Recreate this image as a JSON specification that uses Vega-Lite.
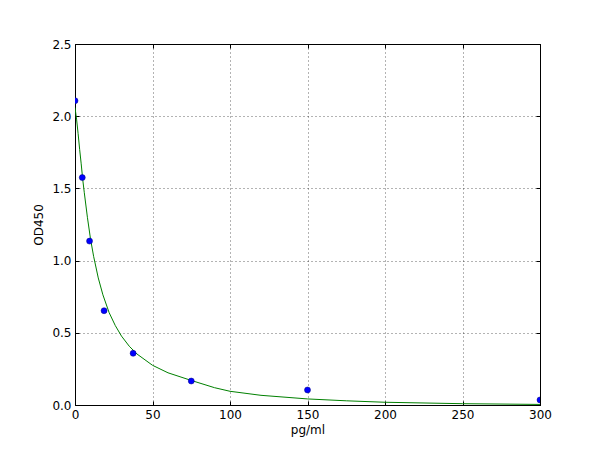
{
  "$schema": "https://vega.github.io/schema/vega-lite/v6.json",
  "width": 465,
  "height": 361,
  "autosize": {"type": "none"},
  "padding": {"left": 75, "top": 44, "right": 60, "bottom": 45},
  "background": "white",
  "config": {
    "view": {"stroke": "black", "strokeWidth": 1},
    "font": "DejaVu Sans",
    "axis": {
      "labelFont": "DejaVu Sans",
      "titleFont": "DejaVu Sans",
      "labelFontSize": 12,
      "titleFontSize": 12,
      "titleFontWeight": "normal",
      "labelColor": "black",
      "titleColor": "black",
      "labelFlush": false,
      "labelOverlap": false,
      "domain": false,
      "tickColor": "black",
      "tickSize": -4,
      "labelPadding": 8,
      "gridColor": "black",
      "gridOpacity": 0.6,
      "gridDash": [1, 3]
    }
  },
  "datasets": {
    "points": [
      {"conc": 0, "od": 2.107},
      {"conc": 4.69, "od": 1.575},
      {"conc": 9.38, "od": 1.135},
      {"conc": 18.75, "od": 0.653},
      {"conc": 37.5, "od": 0.358},
      {"conc": 75, "od": 0.166},
      {"conc": 150, "od": 0.104},
      {"conc": 300, "od": 0.035}
    ],
    "curve": [
      {"conc": 0, "od": 2.06},
      {"conc": 1, "od": 1.98},
      {"conc": 2, "od": 1.88},
      {"conc": 3, "od": 1.77},
      {"conc": 4, "od": 1.67},
      {"conc": 5, "od": 1.56},
      {"conc": 6, "od": 1.47},
      {"conc": 8, "od": 1.3},
      {"conc": 10, "od": 1.15},
      {"conc": 12, "od": 1.03},
      {"conc": 15, "od": 0.88},
      {"conc": 18, "od": 0.763},
      {"conc": 22, "od": 0.64},
      {"conc": 26, "od": 0.55},
      {"conc": 30, "od": 0.477},
      {"conc": 35, "od": 0.407},
      {"conc": 40, "od": 0.353},
      {"conc": 50, "od": 0.275},
      {"conc": 60, "od": 0.223},
      {"conc": 75, "od": 0.17},
      {"conc": 90, "od": 0.12},
      {"conc": 100, "od": 0.095},
      {"conc": 120, "od": 0.067},
      {"conc": 150, "od": 0.042},
      {"conc": 175, "od": 0.029},
      {"conc": 200, "od": 0.019},
      {"conc": 250, "od": 0.009},
      {"conc": 300, "od": 0.004}
    ]
  },
  "layer": [
    {
      "data": {"name": "curve"},
      "mark": {"type": "line", "color": "#008000", "strokeWidth": 1, "clip": true},
      "encoding": {
        "x": {
          "field": "conc",
          "type": "quantitative",
          "title": "pg/ml",
          "scale": {"domain": [0, 300], "nice": false},
          "axis": {"values": [0, 50, 100, 150, 200, 250, 300], "orient": "bottom", "titlePadding": 4}
        },
        "y": {
          "field": "od",
          "type": "quantitative",
          "title": "OD450",
          "scale": {"domain": [0, 2.5], "nice": false},
          "axis": {"values": [0, 0.5, 1, 1.5, 2, 2.5], "format": ".1f", "orient": "left", "titlePadding": 6}
        }
      }
    },
    {
      "data": {"name": "points"},
      "mark": {"type": "point", "filled": true, "fill": "#0000ff", "stroke": "#000080", "strokeWidth": 0.5, "opacity": 1, "size": 36, "clip": true},
      "encoding": {
        "x": {
          "field": "conc",
          "type": "quantitative",
          "axis": {"values": [0, 50, 100, 150, 200, 250, 300], "orient": "top", "labels": false, "title": null, "grid": false}
        },
        "y": {
          "field": "od",
          "type": "quantitative",
          "axis": {"values": [0, 0.5, 1, 1.5, 2, 2.5], "orient": "right", "labels": false, "title": null, "grid": false}
        }
      }
    }
  ],
  "resolve": {"axis": {"x": "independent", "y": "independent"}}
}
